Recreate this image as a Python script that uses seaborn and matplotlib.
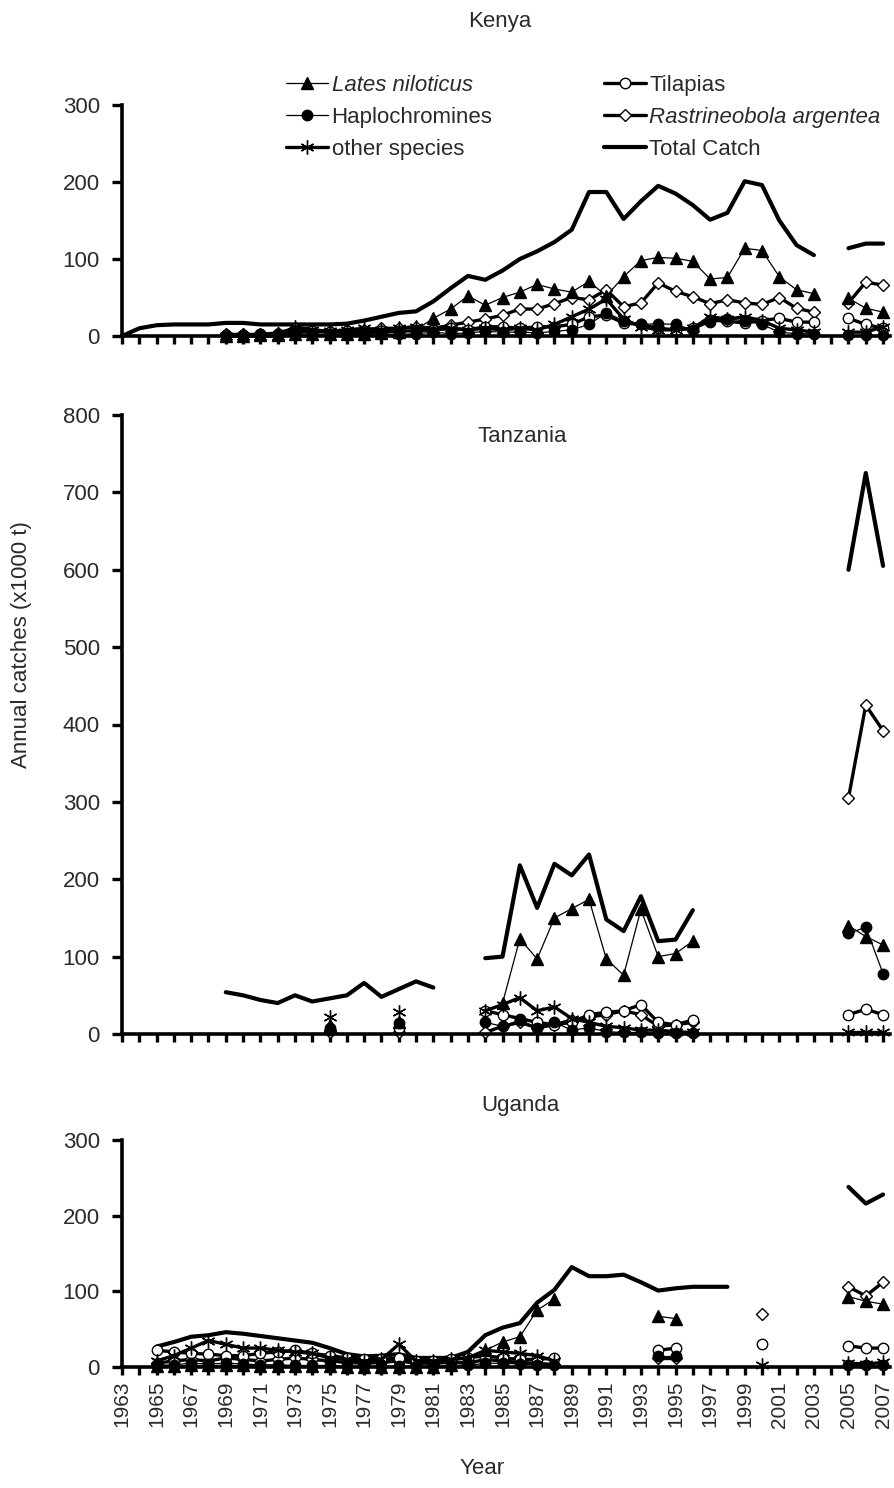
import numpy as np
import pandas as pd
import seaborn as sns
import matplotlib.pyplot as plt
from matplotlib.lines import Line2D

N = None
YEARS = list(range(1963, 2008))

# Kenya (x1000 t)
KEN_TOTAL = [0, 10, 14, 15, 15, 15, 17, 17, 15, 15,
             15, 15, 15, 16, 20, 25, 30, 32, 45, 62,
             78, 73, 85, 100, 110, 122, 138, 187, 187, 152,
             175, 195, 185, 170, 151, 160, 201, 196, 150, 118,
             105, N, 114, 120, 120]
KEN_LATES = [N] * 6 + [0, 0, 1, 1, 2, 2, 2, 3, 3, 4, 5, 8,
                       23, 35, 52, 40, 50, 57, 67, 61, 57, 71,
                       52, 77, 98, 102, 101, 97, 74, 76, 114, 111,
                       77, 60, 55, N, 49, 36, 31]
KEN_HAPLO = [N] * 6 + [1, 1, 2, 2, 3, 2, 2, 3, 2, 3, 2, 3,
                       5, 3, 4, 6, 5, 5, 4, 6, 8, 15,
                       30, 20, 15, 16, 15, 8, 18, 22, 20, 15,
                       5, 3, 3, N, 1, 1, 1]
KEN_TILAPIA = [N] * 6 + [1, 1, 2, 3, 5, 6, 5, 6, 5, 6, 6, 7,
                         8, 10, 8, 12, 12, 10, 12, 12, 15, 25,
                         27, 17, 15, 10, 8, 10, 21, 19, 17, 20,
                         23, 18, 18, N, 23, 15, 10]
KEN_RASTR = [N] * 6 + [2, 2, 2, 4, 10, 8, 6, 8, 8, 10, 10, 12,
                       10, 14, 18, 22, 27, 35, 35, 42, 50, 47,
                       60, 38, 43, 69, 58, 51, 42, 47, 43, 41,
                       50, 36, 31, N, 43, 70, 66]
KEN_OTHER = [N] * 6 + [0, 0, 0, 0, 12, 8, 6, 8, 10, 8, 10, 12,
                       8, 10, 8, 10, 8, 10, 8, 15, 25, 35,
                       48, 22, 12, 8, 8, 10, 25, 22, 25, 20,
                       10, 8, 5, N, 5, 5, 12]

# Tanzania
TZA_TOTAL = ([N] * 6 + [54, 50, 44, 40, 50, 42, 46, 50, 66, 48, 58, 68, 60] + [N] * 2
             + [98, 100, 218, 163, 220, 205, 232, 148, 133, 178, 120, 122, 160]
             + [N] * 8 + [600, 725, 605])
TZA_LATES = ([N] * 12 + [12] + [N] * 3 + [15] + [N] * 4
             + [N, 40, 123, 97, 150, 162, 174, 97, 76, 161, 100, 104, 120]
             + [N] * 8 + [140, 126, 115])
TZA_HAPLO = ([N] * 12 + [5] + [N] * 3 + [14] + [N] * 4
             + [15, 10, 18, 8, 15, 5, 8, 3, 2, 2, 1, 1, 1]
             + [N] * 8 + [130, 138, 78])
TZA_TILAPIA = ([N] * 12 + [8] + [N] * 3 + [8] + [N] * 4
               + [30, 25, 20, 15, 12, 15, 25, 28, 30, 38, 15, 12, 18]
               + [N] * 8 + [25, 32, 25])
TZA_RASTR = ([N] * 12 + [2] + [N] * 3 + [3] + [N] * 4
             + [2, 10, 15, 8, 12, 18, 22, 25, 30, 25, 10, 12, 15]
             + [N] * 8 + [305, 425, 392])
TZA_OTHER = ([N] * 12 + [22] + [N] * 3 + [28] + [N] * 4
             + [30, 38, 47, 30, 35, 20, 15, 10, 8, 5, 5, 3, 2]
             + [N] * 8 + [3, 3, 3])

# Uganda
UGA_TOTAL = ([N] * 2 + [27, 33, 40, 42, 46, 44, 41, 38, 35, 32,
                        25, 17, 14, 15, 17, 12, 12, 12, 20, 42,
                        52, 58, 85, 102, 132, 120, 120, 122, 112, 101,
                        104, 106, 106, 106]
             + [N] * 6 + [238, 216, 228])
UGA_LATES = ([N] * 2 + [1, 1, 2, 2, 2, 2, 1, 1, 1, 1, 1, 0, 0, 0, 0, 0, 0, 2, 10, 22,
                        33, 40, 75, 90]
             + [N] * 5 + [67, 64] + [N] * 9 + [93, 87, 83])
UGA_HAPLO = ([N] * 2 + [2, 3, 5, 4, 5, 4, 3, 3, 2, 2, 2, 1, 1, 1, 1, 1, 1, 1, 2, 5,
                        5, 4, 3, 2]
             + [N] * 5 + [15, 15] + [N] * 9 + [2, 2, 2])
UGA_TILAPIA = ([N] * 2 + [22, 20, 18, 17, 15, 15, 18, 20, 22, 18, 15, 12, 10, 10, 12, 8, 8, 10, 12, 15,
                          12, 10, 10, 12]
               + [N] * 5 + [22, 25] + [N] * 4 + [30] + [N] * 4 + [28, 25, 25])
UGA_RASTR = ([N] * 2 + [5, 8, 10, 8, 12, 10, 8, 10, 12, 10, 8, 6, 5, 6, 8, 5, 5, 6, 5, 10,
                        8, 6, 5, 3]
             + [N] * 5 + [12, 12] + [N] * 4 + [70] + [N] * 4 + [106, 94, 112])
UGA_OTHER = ([N] * 2 + [8, 15, 25, 35, 30, 25, 25, 22, 20, 18, 12, 10, 8, 10, 30, 8, 8, 10, 12, 22,
                        20, 18, 15, 8]
             + [N] * 11 + [2] + [N] * 4 + [5, 4, 6])

SERIES_NAMES = ['Lates niloticus', 'Haplochromines', 'other species',
                'Tilapias', 'Rastrineobola argentea', 'Total Catch']

# line / marker styles per series
styles = {
    'Total Catch': dict(linewidth=3.0, marker=None),
    'Rastrineobola argentea': dict(linewidth=2.4, marker='D', markersize=6.5,
                                   markerfacecolor='white', markeredgecolor='black', markeredgewidth=1.0),
    'Tilapias': dict(linewidth=2.4, marker='o', markersize=7.5,
                     markerfacecolor='white', markeredgecolor='black', markeredgewidth=1.0),
    'other species': dict(linewidth=2.4, marker=(6, 2, 0), markersize=10,
                          markeredgecolor='black', markeredgewidth=1.0),
    'Haplochromines': dict(linewidth=0.9, marker='o', markersize=7.5,
                           markerfacecolor='black', markeredgecolor='black', markeredgewidth=1.0),
    'Lates niloticus': dict(linewidth=0.9, marker='^', markersize=8.5,
                            markerfacecolor='black', markeredgecolor='black', markeredgewidth=1.0),
}
draw_order = ['Total Catch', 'Rastrineobola argentea', 'Tilapias', 'other species',
              'Haplochromines', 'Lates niloticus']


def to_frame(values):
    df = pd.DataFrame({'year': YEARS, 'value': values}, dtype=float)
    df['seg'] = df['value'].isna().cumsum()  # break lines at gaps
    return df.dropna()


countries = [
    ('Kenya', 300, {'Total Catch': KEN_TOTAL, 'Lates niloticus': KEN_LATES, 'Haplochromines': KEN_HAPLO,
                    'Tilapias': KEN_TILAPIA, 'Rastrineobola argentea': KEN_RASTR, 'other species': KEN_OTHER}),
    ('Tanzania', 800, {'Total Catch': TZA_TOTAL, 'Lates niloticus': TZA_LATES, 'Haplochromines': TZA_HAPLO,
                       'Tilapias': TZA_TILAPIA, 'Rastrineobola argentea': TZA_RASTR, 'other species': TZA_OTHER}),
    ('Uganda', 300, {'Total Catch': UGA_TOTAL, 'Lates niloticus': UGA_LATES, 'Haplochromines': UGA_HAPLO,
                     'Tilapias': UGA_TILAPIA, 'Rastrineobola argentea': UGA_RASTR, 'other species': UGA_OTHER}),
]

sns.set_style('ticks')
plt.rcParams['font.family'] = ['Liberation Sans', 'DejaVu Sans']
TEXT = '#2a2a2a'

fig = plt.figure(figsize=(8.94, 14.88), dpi=100)
W, H = 894, 1488
# axes boxes in pixels: (top, bottom)
boxes = {'Kenya': (105, 336), 'Tanzania': (415, 1034), 'Uganda': (1140, 1367)}
x0, x1 = 122, 890

for name, ymax, data in countries:
    top, bot = boxes[name]
    ax = fig.add_axes([x0 / W, 1 - bot / H, (x1 - x0) / W, (bot - top) / H])
    for s in draw_order:
        df = to_frame(data[s])
        sns.lineplot(data=df, x='year', y='value', units='seg', estimator=None, ax=ax,
                     color='black', legend=False, clip_on=False, **styles[s])
    ax.set_xlim(1963, 2007.4)
    ax.set_ylim(0, ymax)
    ax.set_yticks(range(0, ymax + 1, 100))
    ax.set_xticks(YEARS)
    if name == 'Uganda':
        ax.set_xticklabels([str(y) if (y - 1963) % 2 == 0 else '' for y in YEARS], rotation=90)
    else:
        ax.set_xticklabels([])
    ax.set_xlabel('')
    ax.set_ylabel('')
    for side in ['top', 'right']:
        ax.spines[side].set_visible(False)
    for side in ['left', 'bottom']:
        ax.spines[side].set_linewidth(2.6)
        ax.spines[side].set_color('black')
    ax.tick_params(axis='y', direction='out', length=7, width=2.4, pad=9,
                   labelsize=16, labelcolor=TEXT, color='black')
    ax.tick_params(axis='x', direction='out', length=6, width=2.4, pad=4,
                   labelsize=15, labelcolor=TEXT, color='black')

# panel titles
fig.text(500 / W, 1 - 22 / H, 'Kenya', ha='center', va='center', fontsize=16, color=TEXT)
fig.text(522 / W, 1 - 437 / H, 'Tanzania', ha='center', va='center', fontsize=16, color=TEXT)
fig.text(520 / W, 1 - 1105 / H, 'Uganda', ha='center', va='center', fontsize=16, color=TEXT)

fig.text(22 / W, 1 - 645 / H, 'Annual catches (x1000 t)', rotation=90,
         ha='center', va='center', fontsize=16, color=TEXT)
fig.text(482 / W, 1 - 1468 / H, 'Year', ha='center', va='center', fontsize=16, color=TEXT)

# legend
handles = []
for s in SERIES_NAMES:
    st = dict(styles[s])
    handles.append(Line2D([], [], color='black', **st))
leg = fig.legend(handles, SERIES_NAMES, ncol=2, loc='upper left',
                 bbox_to_anchor=(286 / W, 1 - 75 / H), frameon=False,
                 fontsize=16, handlelength=1.9, handletextpad=0.15,
                 columnspacing=5.0, labelspacing=0.5, borderaxespad=0, borderpad=0)
for t in leg.get_texts():
    t.set_color(TEXT)
    if t.get_text() in ('Lates niloticus', 'Rastrineobola argentea'):
        t.set_fontstyle('italic')

fig.savefig('out.png', dpi=100)
